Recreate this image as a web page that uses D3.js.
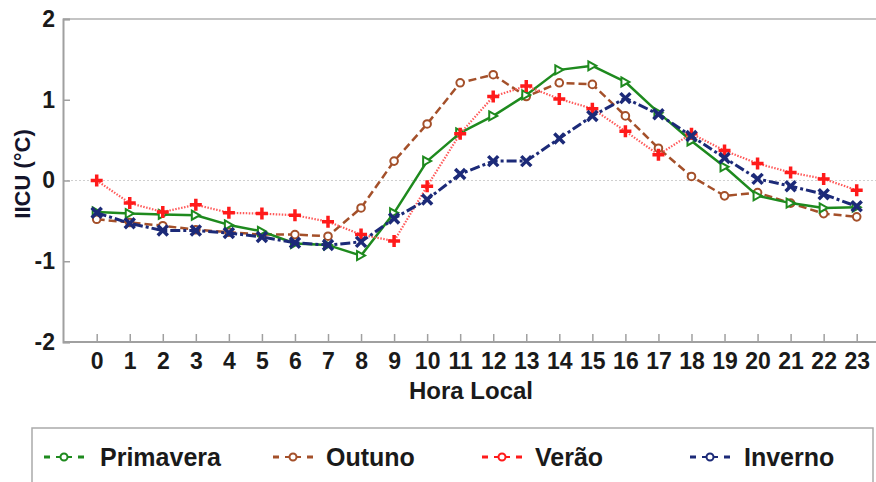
<!DOCTYPE html>
<html><head><meta charset="utf-8">
<script src="https://cdn.jsdelivr.net/npm/d3@7"></script>
<style>body{margin:0;background:#fff}svg{display:block}</style>
</head><body>
<script>
const hours = d3.range(0, 24);
const yTicks = [-2, -1, 0, 1, 2];
const seriesNames = ["Primavera", "Outuno", "Verão", "Inverno"];
const primavera = [-0.39,-0.41,-0.42,-0.43,-0.55,-0.63,-0.78,-0.80,-0.93,-0.40,0.24,0.59,0.80,1.06,1.37,1.42,1.22,0.84,0.49,0.17,-0.19,-0.28,-0.34,-0.33];
const outuno    = [-0.48,-0.52,-0.56,-0.61,-0.64,-0.67,-0.67,-0.69,-0.34,0.24,0.70,1.21,1.31,1.04,1.21,1.19,0.80,0.40,0.05,-0.19,-0.15,-0.28,-0.41,-0.45];
const verao     = [0.00,-0.28,-0.39,-0.30,-0.40,-0.41,-0.43,-0.51,-0.67,-0.75,-0.07,0.58,1.04,1.17,1.01,0.89,0.61,0.32,0.58,0.37,0.21,0.10,0.02,-0.12];
const inverno   = [-0.40,-0.53,-0.62,-0.62,-0.65,-0.70,-0.77,-0.80,-0.76,-0.47,-0.235,0.08,0.24,0.24,0.52,0.80,1.02,0.82,0.55,0.28,0.02,-0.07,-0.17,-0.32];
const colors = ["#1e8a1e", "#a4502a", "#ff1a1a", "#1c2a78"];

const W = 876, H = 482;
const svg = d3.select("body").append("svg").attr("width", W).attr("height", H);
const x = d3.scaleLinear().domain([0, 23]).range([96.7, 856.7]);
const y = d3.scaleLinear().domain([-2, 2]).range([342, 19]);
const left = 63, right = 876;

// frame top
svg.append("line").attr("x1", left).attr("x2", right).attr("y1", y(2)).attr("y2", y(2))
  .attr("stroke", "#c4c4c4").attr("stroke-width", 2);
// zero grid
svg.append("line").attr("x1", left).attr("x2", right).attr("y1", y(0)).attr("y2", y(0))
  .attr("stroke", "#cfcfcf").attr("stroke-width", 1).attr("stroke-dasharray", "2,2");

// left axis
const ya = svg.append("g").attr("transform", `translate(${left},0)`)
  .call(d3.axisLeft(y).tickValues(yTicks).tickSize(-7).tickPadding(8).tickFormat(d3.format("d")));
ya.select(".domain").attr("stroke", "#a0a0a0").attr("stroke-width", 2);
ya.selectAll(".tick line").attr("stroke", "#a0a0a0").attr("stroke-width", 1.5);
ya.selectAll("text").attr("font-family", "Liberation Sans, Arial, sans-serif").attr("font-weight", "bold")
  .attr("font-size", 23).attr("fill", "#1a1a1a").text(d => d < 0 ? "-" + Math.abs(d) : d);

// bottom axis
const xa = svg.append("g").attr("transform", `translate(0,${y(-2)})`)
  .call(d3.axisBottom(x).tickValues(hours).tickSize(-8).tickPadding(11).tickFormat(d3.format("d")));
xa.select(".domain").remove();
xa.append("line").attr("x1", left).attr("x2", right).attr("stroke", "#a0a0a0").attr("stroke-width", 2);
xa.selectAll(".tick line").attr("stroke", "#a0a0a0").attr("stroke-width", 1.5);
xa.selectAll("text").attr("font-family", "Liberation Sans, Arial, sans-serif").attr("font-weight", "bold")
  .attr("font-size", 23).attr("fill", "#1a1a1a");

// axis titles
svg.append("text").attr("x", 471).attr("y", 399).attr("text-anchor", "middle")
  .attr("font-family", "Liberation Sans, Arial, sans-serif").attr("font-weight", "bold")
  .attr("font-size", 24).attr("fill", "#1a1a1a").text("Hora Local");
svg.append("text").attr("transform", "translate(30,174) rotate(-90)").attr("text-anchor", "middle")
  .attr("font-family", "Liberation Sans, Arial, sans-serif").attr("font-weight", "bold")
  .attr("font-size", 22).attr("fill", "#14142a").text("IICU (°C)");

const line = d3.line().x((d, i) => x(hours[i])).y(d => y(d));
const data = [primavera, outuno, verao, inverno];
const lineColors = ["#1e8a1e", "#a4502a", "#ff5a5a", "#1c2a78"];
const dashes = [null, "8,4", "1.5,1.5", "10,3,3,3"];
const widths = [2.5, 2.5, 2.2, 3];

function drawSeries(k) {
  const g = svg.append("g");
  g.append("path").datum(data[k]).attr("d", line).attr("fill", "none")
    .attr("stroke", lineColors[k]).attr("stroke-width", widths[k])
    .attr("stroke-dasharray", dashes[k]).attr("stroke-linejoin", "round");
  const pts = g.selectAll("g.m").data(data[k]).join("g")
    .attr("transform", (d, i) => `translate(${x(hours[i])},${y(d)})`);
  if (k === 0) {
    pts.append("path").attr("d", "M-4,-4.5 L4,0 L-4,4.5 Z").attr("fill", "#fff")
      .attr("stroke", colors[k]).attr("stroke-width", 2);
  } else if (k === 1) {
    pts.append("circle").attr("r", 3.8).attr("fill", "#fff")
      .attr("stroke", colors[k]).attr("stroke-width", 2);
  } else if (k === 2) {
    pts.append("path").attr("d", "M-6,0 L6,0 M0,-6 L0,6").attr("stroke", colors[k]).attr("stroke-width", 3.5);
  } else {
    pts.append("path").attr("d", "M-5,-5 L5,5 M-5,5 L5,-5").attr("stroke", colors[k]).attr("stroke-width", 3.5);
  }
}
[1, 0, 2, 3].forEach(drawSeries);

// legend
svg.append("rect").attr("x", 32).attr("y", 428).attr("width", 841).attr("height", 70)
  .attr("fill", "#fff").attr("stroke", "#aaa").attr("stroke-width", 1.5);
const legX = [44, 273, 482, 690];
const legTX = [100, 326, 535, 744];
seriesNames.forEach((n, k) => {
  const g = svg.append("g");
  g.append("line").attr("x1", legX[k]).attr("x2", legX[k] + 40).attr("y1", 457).attr("y2", 457)
    .attr("stroke", colors[k]).attr("stroke-width", 3).attr("stroke-dasharray", "6,4,0,20,0,4,6");
  g.append("line").attr("x1", legX[k] + 12).attr("x2", legX[k] + 28).attr("y1", 457).attr("y2", 457)
    .attr("stroke", colors[k]).attr("stroke-width", 2);
  g.append("circle").attr("cx", legX[k] + 20).attr("cy", 457).attr("r", 3.5)
    .attr("fill", "#fff").attr("stroke", colors[k]).attr("stroke-width", 2);
  g.append("text").attr("x", legTX[k]).attr("y", 466).attr("font-family", "Liberation Sans, Arial, sans-serif")
    .attr("font-weight", "bold").attr("font-size", 25).attr("fill", "#1a1a1a").text(n);
});
</script>
</body></html>
